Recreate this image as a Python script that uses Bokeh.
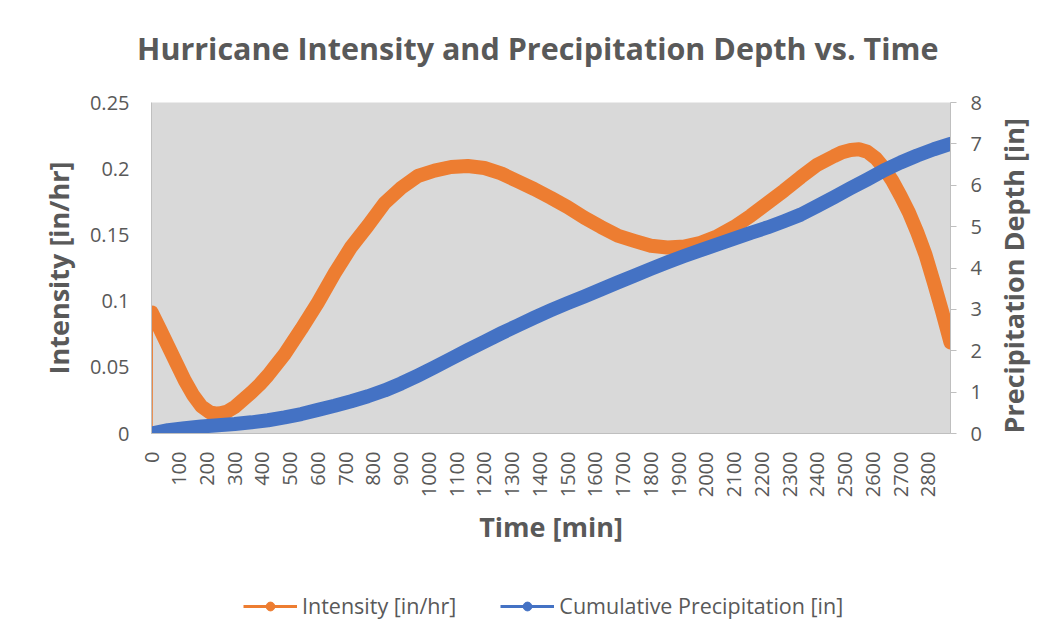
import math
from bokeh.plotting import figure
from bokeh.layouts import column
from bokeh.models import (Range1d, LinearAxis, FixedTicker, Legend, LegendItem, Title)
from bokeh.embed import file_html
from bokeh.resources import INLINE

# ---- data ----
intensity_time_min = [0, 1, 30, 60, 90, 120, 150, 180, 210, 240, 270, 300, 330, 360, 390,
                      420, 450, 480, 540, 600, 660, 720, 780, 840, 900, 960, 1020, 1080,
                      1140, 1200, 1260, 1320, 1380, 1440, 1500, 1560, 1620, 1680, 1740,
                      1800, 1860, 1920, 1980, 2040, 2100, 2160, 2220, 2280, 2340, 2400,
                      2460, 2490, 2520, 2550, 2580, 2610, 2640, 2670, 2700, 2730, 2760,
                      2790, 2820, 2850, 2880]
intensity = [0.0, 0.0914, 0.079, 0.066, 0.053, 0.040, 0.029, 0.0205, 0.0160, 0.0148,
             0.0163, 0.020, 0.0255, 0.031, 0.037, 0.044, 0.052, 0.060, 0.079, 0.099,
             0.121, 0.141, 0.157, 0.174, 0.1855, 0.1945, 0.1985, 0.2013, 0.202, 0.2005,
             0.1965, 0.1905, 0.1846, 0.178, 0.171, 0.163, 0.156, 0.1495, 0.1455, 0.1418,
             0.1405, 0.1412, 0.144, 0.149, 0.156, 0.1645, 0.174, 0.1835, 0.1936, 0.203,
             0.2095, 0.2125, 0.2142, 0.2147, 0.2128, 0.208, 0.2005, 0.191, 0.1795, 0.167,
             0.152, 0.135, 0.114, 0.092, 0.0687]

precip_time_min = [0, 1, 60, 120, 180, 240, 300, 360, 420, 480, 540, 600, 660, 720, 780,
                   840, 900, 960, 1020, 1080, 1140, 1200, 1260, 1320, 1380, 1440, 1500,
                   1560, 1620, 1680, 1740, 1800, 1860, 1920, 1980, 2040, 2100, 2160, 2220,
                   2280, 2340, 2400, 2460, 2520, 2580, 2640, 2700, 2760, 2820, 2880]
cum_precip = [0.0, 0.0, 0.08, 0.13, 0.17, 0.2, 0.23, 0.27, 0.32, 0.39, 0.47, 0.57, 0.67,
              0.78, 0.9, 1.04, 1.21, 1.4, 1.6, 1.81, 2.02, 2.22, 2.42, 2.61, 2.8, 2.98,
              3.15, 3.31, 3.48, 3.65, 3.81, 3.98, 4.14, 4.29, 4.43, 4.57, 4.71, 4.85,
              4.98, 5.13, 5.29, 5.5, 5.71, 5.93, 6.14, 6.36, 6.55, 6.72, 6.87, 7.0]

x_ticks = [0, 100, 200, 300, 400, 500, 600, 700, 800, 900, 1000, 1100, 1200, 1300, 1400,
           1500, 1600, 1700, 1800, 1900, 2000, 2100, 2200, 2300, 2400, 2500, 2600, 2700, 2800]
left_ticks = [0, 0.05, 0.1, 0.15, 0.2, 0.25]
left_tick_labels = ["0", "0.05", "0.1", "0.15", "0.2", "0.25"]
right_ticks = [0, 1, 2, 3, 4, 5, 6, 7, 8]

title_text = "Hurricane Intensity and Precipitation Depth vs. Time"
x_label = "Time [min]"
y_label = "Intensity [in/hr]"
y2_label = "Precipitation Depth [in]"
series_names = ["Intensity [in/hr]", "Cumulative Precipitation [in]"]

ORANGE = "#ED7D31"
BLUE = "#4472C4"
TEXT = "#595959"
AXIS = "#bfbfbf"
FONT = "Open Sans"
TICK_SIZE = "20px"
LABEL_SIZE = "27px"
W = 1053


def blank_strip(height, **kw):
    f = figure(width=W, height=height, output_backend="svg", toolbar_location=None,
               x_axis_type=None, y_axis_type=None, x_range=Range1d(0, 1),
               y_range=Range1d(-2, -1), **kw)
    f.outline_line_color = None
    f.background_fill_color = "white"
    f.border_fill_color = "white"
    f.xgrid.visible = False
    f.ygrid.visible = False
    return f


# ---- title strip ----
pt = blank_strip(80, min_border_top=68, min_border_bottom=0)
pt.title = Title(text=title_text, align="right", offset=12, standoff=0,
                 vertical_align="bottom", text_font=FONT, text_font_style="bold",
                 text_font_size="30.5px", text_color=TEXT)

# ---- main chart ----
p = figure(width=W, height=480, output_backend="svg", toolbar_location=None,
           x_range=Range1d(0, 2880), y_range=Range1d(0, 0.25),
           min_border_left=151, min_border_right=102, min_border_top=22,
           min_border_bottom=127)
p.extra_y_ranges = {"precip": Range1d(0, 8)}
p.background_fill_color = "#d9d9d9"
p.border_fill_color = "white"
p.outline_line_color = None
p.xgrid.visible = False
p.ygrid.visible = False

# intensity: thin connecting line (incl. the first zero point) + thick marker band
p.line(intensity_time_min, intensity, line_color=ORANGE, line_width=2.5)
p.line(intensity_time_min[1:], intensity[1:], line_color=ORANGE, line_width=14,
       line_cap="round", line_join="round")
# cumulative precipitation on the secondary axis
p.line(precip_time_min, cum_precip, line_color=BLUE, line_width=14, line_cap="round",
       line_join="round", y_range_name="precip")

# x axis
xa = p.xaxis[0]
xa.ticker = FixedTicker(ticks=x_ticks)
xa.major_label_orientation = math.pi / 2
xa.major_tick_out = 0
xa.major_tick_in = 0
xa.minor_tick_line_color = None
xa.axis_line_color = AXIS
xa.major_label_text_font = FONT
xa.major_label_text_font_size = TICK_SIZE
xa.major_label_text_color = TEXT
xa.major_label_standoff = 18
xa.axis_label = x_label
xa.axis_label_text_font = FONT
xa.axis_label_text_font_style = "bold"
xa.axis_label_text_font_size = LABEL_SIZE
xa.axis_label_text_color = TEXT
xa.axis_label_standoff = 8

# left axis
ya = p.yaxis[0]
ya.ticker = FixedTicker(ticks=left_ticks)
ya.major_label_overrides = {t: s for t, s in zip(left_ticks, left_tick_labels)}
ya.major_tick_out = 0
ya.major_tick_in = 0
ya.minor_tick_line_color = None
ya.axis_line_color = AXIS
ya.major_label_text_font = FONT
ya.major_label_text_font_size = TICK_SIZE
ya.major_label_text_color = TEXT
ya.major_label_standoff = 22
ya.axis_label = y_label
ya.axis_label_text_font = FONT
ya.axis_label_text_font_style = "bold"
ya.axis_label_text_font_size = LABEL_SIZE
ya.axis_label_text_color = TEXT
ya.axis_label_standoff = 10

# right axis
ra = LinearAxis(y_range_name="precip", ticker=FixedTicker(ticks=right_ticks))
ra.major_tick_out = 6
ra.major_tick_in = 0
ra.major_tick_line_color = AXIS
ra.minor_tick_line_color = None
ra.axis_line_color = AXIS
ra.major_label_text_font = FONT
ra.major_label_text_font_size = TICK_SIZE
ra.major_label_text_color = TEXT
ra.major_label_standoff = 14
ra.axis_label = y2_label
ra.axis_label_orientation = math.pi / 2
ra.axis_label_align = "start"
ra.axis_label_text_font = FONT
ra.axis_label_text_font_style = "bold"
ra.axis_label_text_font_size = LABEL_SIZE
ra.axis_label_text_color = TEXT
ra.axis_label_standoff = 29
p.add_layout(ra, "right")

# ---- legend strip (its series lie outside its visible range; only the entries show) ----
pl = blank_strip(64, min_border=0)
items = []
for color, name, tt, vals in zip([ORANGE, BLUE], series_names,
                                 [intensity_time_min, precip_time_min],
                                 [intensity, cum_precip]):
    lr = pl.line(tt, vals, line_color=color, line_width=3)
    sr = pl.scatter(tt, vals, marker="circle", size=14, fill_color=color,
                    line_color=color)
    items.append(LegendItem(label=name, renderers=[lr, sr]))
lg = Legend(items=items, location=(92, 4), orientation="horizontal", padding=0,
            margin=0, spacing=44, glyph_width=54, glyph_height=22, label_height=22,
            label_standoff=5, label_text_font=FONT, label_text_font_size="21.5px",
            label_text_color=TEXT, border_line_color=None, background_fill_alpha=0)
pl.add_layout(lg, "center")

layout = column(pt, p, pl, spacing=0)
open("out.html", "w").write(file_html(layout, INLINE))
